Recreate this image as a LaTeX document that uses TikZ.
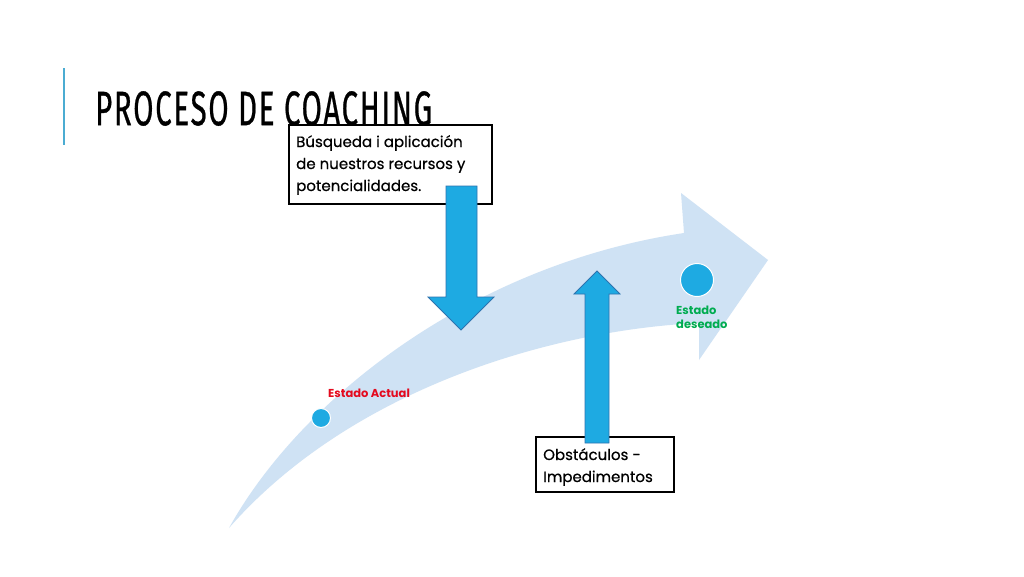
\documentclass[tikz,border=0pt]{standalone}
\usepackage{fontspec}
\setmainfont{Poppins}
\newfontfamily\boxfont[FakeBold=0.6]{Poppins}
\newfontfamily\titlefont[LetterSpace=6,FakeBold=0.8]{Fira Sans}
\definecolor{bandblue}{RGB}{207,226,244}
\definecolor{arrowfill}{RGB}{30,170,226}
\definecolor{arrowline}{RGB}{45,115,175}
\definecolor{barblue}{RGB}{75,172,210}
\definecolor{actualred}{RGB}{228,10,30}
\definecolor{deseadogreen}{RGB}{0,172,80}
\tikzset{
  framebox/.style={draw=black, line width=2pt, fill=white, inner sep=0pt},
  boxtext/.style={align=left, inner sep=0pt, anchor=base west, font=\boxfont\fontsize{15}{22}\selectfont},
  blockarrow/.style={fill=arrowfill, draw=arrowline, line width=0.8pt, line join=miter},
  statedot/.style={circle, fill=arrowfill, draw=white, line width=1pt, inner sep=0pt},
  statelabel/.style={font=\bfseries\fontsize{11.5}{14}\selectfont, align=left, inner sep=0pt}
}
\begin{document}
\begin{tikzpicture}[x=1pt,y=-1pt]
\useasboundingbox (0,0) rectangle (1024,576);
\fill[white] (0,0) rectangle (1024,576);
% accent bar
\coordinate (bartop) at (64,68);
\coordinate (barbot) at (64,145);
\draw[barblue, line width=2.5pt] (bartop) -- (barbot);
% title
\node[anchor=south west, inner sep=0pt] (title) at (95,126)
  {\resizebox{337pt}{34pt}{\titlefont PROCESO DE COACHING}};
% curved band arrow
\fill[bandblue] (229,528) .. controls (300,400) and (470,265) .. (684,233)
  -- (681,193) -- (768,260) -- (699,360) -- (699,323)
  .. controls (550,330) and (350,390) .. (229,528) -- cycle;
% state dots and labels
\node[statedot, minimum size=19pt] (actual) at (321,418) {};
\node[statedot, minimum size=33pt] (deseado) at (697,280) {};
\node[statelabel, anchor=base west, text=actualred] (lblactual) at (328,397) {Estado Actual};
\node[statelabel, anchor=base west, text=deseadogreen] (lbldeseado) at (676,328) {Estado\\deseado};
% top box
\node[framebox, minimum width=203pt, minimum height=79pt] (busqueda) at (390.5,164.5) {};
\node[boxtext] (busquedatxt) at (296,191)
  {Búsqueda i aplicación\\de nuestros recursos y\\potencialidades.};
% down arrow
\draw[blockarrow] (446,186) -- (477,186) -- (477,297) -- (494,297) -- (461,330)
  -- (428,297) -- (446,297) -- cycle;
% bottom box
\node[framebox, minimum width=138pt, minimum height=55pt] (obstaculos) at (605,464.5) {};
\node[boxtext] (obstaculostxt) at (543,482) {Obstáculos -\\Impedimentos};
% up arrow
\draw[blockarrow] (585,443) -- (609,443) -- (609,294) -- (620,294) -- (597,271)
  -- (574,294) -- (585,294) -- cycle;
\end{tikzpicture}
\end{document}
